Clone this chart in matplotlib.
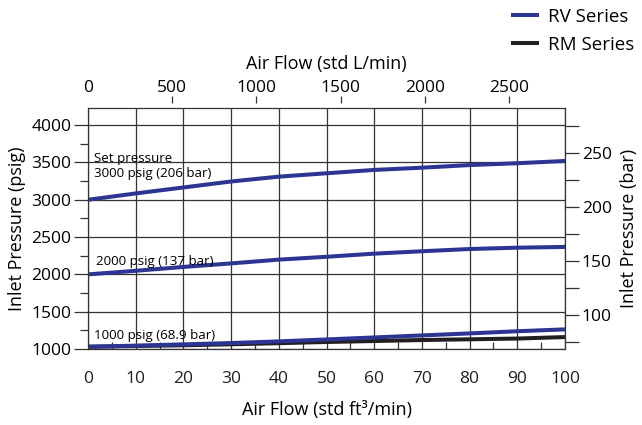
import numpy as np
import matplotlib
matplotlib.use("Agg")
import matplotlib.pyplot as plt
from matplotlib.ticker import MultipleLocator

plt.rcParams['font.family'] = ['Open Sans', 'DejaVu Sans']

# flow in std ft3/min
flow = [0, 10, 20, 30, 40, 50, 60, 70, 80, 90, 100]
# RV series inlet pressure (psig) for three set pressures
rv_3000 = [3000, 3085, 3165, 3245, 3310, 3355, 3400, 3430, 3465, 3490, 3520]
rv_2000 = [2000, 2048, 2100, 2147, 2198, 2236, 2278, 2310, 2340, 2358, 2368]
rv_1000 = [1030, 1045, 1062, 1080, 1102, 1128, 1155, 1182, 1209, 1238, 1263]
# RM series at 1000 psig
rm_1000 = [1030, 1040, 1050, 1063, 1078, 1094, 1107, 1120, 1130, 1140, 1160]

PSI_PER_BAR = 14.5038
LPM_PER_CFM = 28.317
BLUE = "#2d3593"
BLACK = "#231f20"
GRID = "#333333"
LW = 2.9
FS_TICK = 12.5
FS_LAB = 13

fig = plt.figure(figsize=(6.42, 4.25), dpi=100)
ax = fig.add_axes([88 / 642, 1 - 349 / 425, (565 - 88) / 642, (349 - 108) / 425])

ax.plot(flow, rv_3000, color=BLUE, lw=LW, solid_capstyle="butt", label="RV Series")
ax.plot(flow, rv_2000, color=BLUE, lw=LW, solid_capstyle="butt")
ax.plot(flow, rm_1000, color=BLACK, lw=LW, solid_capstyle="butt", label="RM Series")
ax.plot(flow, rv_1000, color=BLUE, lw=LW, solid_capstyle="butt")

ylo, yhi = 1000, 4230
ax.set_xlim(0, 100)
ax.set_ylim(ylo, yhi)
ax.xaxis.set_major_locator(MultipleLocator(10))
ax.xaxis.set_minor_locator(MultipleLocator(5))
ax.yaxis.set_major_locator(MultipleLocator(500))
ax.yaxis.set_minor_locator(MultipleLocator(250))
ax.grid(True, which="major", color=GRID, lw=0.9)
ax.tick_params(axis="x", which="major", length=0, pad=16, labelsize=FS_TICK, colors="#231f20")
ax.tick_params(axis="x", which="minor", direction="in", length=5, color=GRID, width=0.9)
ax.tick_params(axis="y", which="major", direction="out", length=10, pad=2, labelsize=FS_TICK,
               color=GRID, width=0.9)
ax.tick_params(axis="y", which="minor", direction="out", length=6, color=GRID, width=0.9)
for s in ax.spines.values():
    s.set_color(GRID)
    s.set_linewidth(0.9)
ax.set_xlabel("Air Flow (std ft³/min)", fontsize=FS_LAB, labelpad=10)
ax.set_ylabel("Inlet Pressure (psig)", fontsize=FS_LAB, labelpad=4)

# right axis in bar
ax2 = ax.twinx()
ax2.set_ylim(ylo / PSI_PER_BAR, yhi / PSI_PER_BAR)
ax2.yaxis.set_major_locator(MultipleLocator(50))
ax2.yaxis.set_minor_locator(MultipleLocator(25))
ax2.tick_params(axis="y", which="both", direction="out", length=10, pad=2, labelsize=FS_TICK,
                color=GRID, width=0.9)
ax2.set_ylabel("Inlet Pressure (bar)", fontsize=FS_LAB, labelpad=6)
for s in ax2.spines.values():
    s.set_visible(False)

# top axis in L/min
ax3 = ax.twiny()
ax3.set_xlim(0, 100 * LPM_PER_CFM)
ax3.set_xticks(range(0, 2501, 500))
ax3.spines["top"].set_position(("outward", 3.5))
for s in ax3.spines.values():
    s.set_visible(False)
ax3.tick_params(axis="x", which="major", direction="out", length=5, pad=0, labelsize=FS_TICK,
                color=GRID, width=0.9)
ax3.xaxis.get_major_ticks()[0].tick2line.set_visible(False)
ax3.set_xlabel("Air Flow (std L/min)", fontsize=FS_LAB, labelpad=8)

ax.text(1.2, 3460, "Set pressure", fontsize=9.6, va="bottom")
ax.text(1.2, 3270, "3000 psig (206 bar)", fontsize=9.6, va="bottom")
ax.text(1.7, 2080, "2000 psig (137 bar)", fontsize=9.6, va="bottom")
ax.text(1.2, 1095, "1000 psig (68.9 bar)", fontsize=9.6, va="bottom")

fig.legend(loc="upper right", bbox_to_anchor=(1.0, 1.0), frameon=False, fontsize=13.5,
           handlelength=1.5, handletextpad=0.5, labelspacing=0.55, borderaxespad=0.0)

fig.savefig("out.png", dpi=100)
